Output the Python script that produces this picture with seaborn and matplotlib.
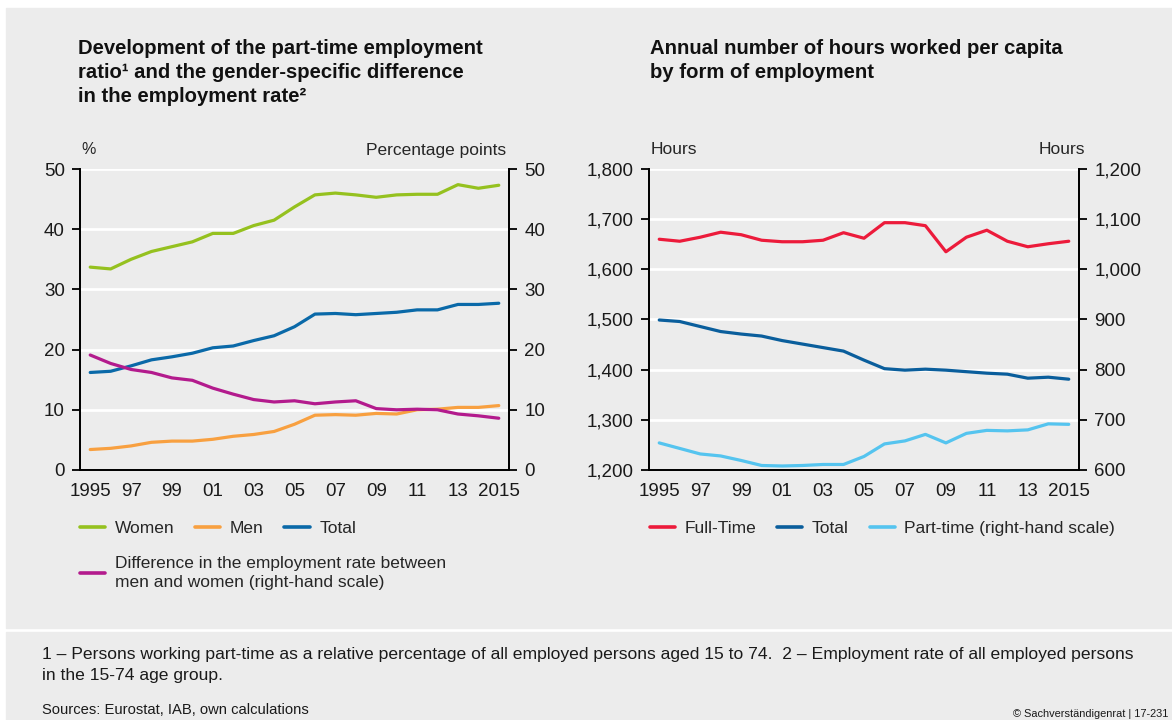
import numpy as np
import pandas as pd
import seaborn as sns
import matplotlib
matplotlib.use("Agg")
from matplotlib import pyplot as plt
from matplotlib.patches import Rectangle
from matplotlib.lines import Line2D

years = list(range(1995, 2016))
year_labels = ['1995', '97', '99', '01', '03', '05', '07', '09', '11', '13', '2015']

# left chart: part-time ratio (%) and gender gap (percentage points)
women = [33.7, 33.4, 35.0, 36.3, 37.1, 37.9, 39.3, 39.3, 40.6, 41.5, 43.7,
         45.7, 46.0, 45.7, 45.3, 45.7, 45.8, 45.8, 47.4, 46.8, 47.3]
men = [3.4, 3.6, 4.0, 4.6, 4.8, 4.8, 5.1, 5.6, 5.9, 6.4, 7.6,
       9.1, 9.2, 9.1, 9.4, 9.3, 10.0, 10.1, 10.4, 10.4, 10.7]
total_ratio = [16.2, 16.4, 17.3, 18.3, 18.8, 19.4, 20.3, 20.6, 21.5, 22.3, 23.8,
               25.9, 26.0, 25.8, 26.0, 26.2, 26.6, 26.6, 27.5, 27.5, 27.7]
gap = [19.1, 17.7, 16.7, 16.2, 15.3, 14.9, 13.6, 12.6, 11.7, 11.3, 11.5,
       11.0, 11.3, 11.5, 10.2, 10.0, 10.1, 10.0, 9.3, 9.0, 8.6]

# right chart: annual hours worked per capita
full_time = [1660, 1656, 1664, 1674, 1669, 1658, 1655, 1655, 1658, 1673, 1662,
             1693, 1693, 1687, 1635, 1664, 1678, 1656, 1645, 1651, 1656]
total_hours = [1499, 1496, 1486, 1476, 1471, 1467, 1458, 1451, 1444, 1437, 1419,
               1402, 1399, 1401, 1399, 1396, 1393, 1391, 1383, 1385, 1381]
part_time = [654, 643, 632, 628, 619, 609, 608, 609, 611, 611, 627,
             652, 658, 671, 654, 673, 679, 678, 680, 692, 691]

BG = '#ececec'
GREEN = '#95c11f'
ORANGE = '#f8a040'
BLUE = '#0a69a8'
MAGENTA = '#b31b8d'
RED = '#ec1b3b'
DBLUE = '#0a5e9c'
LBLUE = '#55c4ef'

sns.set_style('white')
plt.rcParams['font.family'] = ['Liberation Sans', 'DejaVu Sans']

W, H = 1172, 720
fig = plt.figure(figsize=(W / 100, H / 100), dpi=100)
fig.patch.set_facecolor('white')
fig.patches.append(Rectangle((6 / W, 1 - 628 / H), 1, 620 / H,
                             transform=fig.transFigure, color=BG, zorder=-10))
fig.patches.append(Rectangle((6 / W, 0), 1, 88 / H,
                             transform=fig.transFigure, color=BG, zorder=-10))

def box(x0, x1, y0, y1):
    return [x0 / W, 1 - y1 / H, (x1 - x0) / W, (y1 - y0) / H]

ax1 = fig.add_axes(box(80, 509, 169, 470))
ax2 = fig.add_axes(box(649, 1079, 169, 470))
ax1r = ax1.twinx()
ax2r = ax2.twinx()

left_df = pd.DataFrame({'year': years, 'Women': women, 'Men': men, 'Total': total_ratio})
gap_df = pd.DataFrame({'year': years, 'gap': gap})
right_df = pd.DataFrame({'year': years, 'Full-Time': full_time, 'Total': total_hours})
pt_df = pd.DataFrame({'year': years, 'part': part_time})

lw = 2.3
for col, c in [('Women', GREEN), ('Men', ORANGE), ('Total', BLUE)]:
    sns.lineplot(data=left_df, x='year', y=col, ax=ax1, color=c, lw=lw)
sns.lineplot(data=gap_df, x='year', y='gap', ax=ax1r, color=MAGENTA, lw=lw)
for col, c in [('Full-Time', RED), ('Total', DBLUE)]:
    sns.lineplot(data=right_df, x='year', y=col, ax=ax2, color=c, lw=lw)
sns.lineplot(data=pt_df, x='year', y='part', ax=ax2r, color=LBLUE, lw=lw)

TS = 13.5

def style(ax, axr, lim, ticks, rlim, rticks, fmt):
    ax.set_facecolor('none')
    axr.set_facecolor('none')
    ax.set_xlim(1994.5, 2015.5)
    ax.set_ylim(*lim)
    axr.set_ylim(*rlim)
    ax.set_yticks(ticks)
    axr.set_yticks(rticks)
    ax.set_yticklabels([fmt(v) for v in ticks])
    axr.set_yticklabels([fmt(v) for v in rticks])
    ax.set_xticks(years[::2])
    ax.set_xticklabels(year_labels)
    ax.set_xticks(np.arange(1994.5, 2016, 1), minor=True)
    ax.tick_params(axis='x', which='major', length=0, pad=9, labelsize=TS, colors='#1a1a1a')
    ax.tick_params(axis='x', which='minor', length=6, width=1.3, direction='out', color='black')
    ax.tick_params(axis='y', length=6, width=1.3, direction='out', pad=5, labelsize=TS)
    axr.tick_params(axis='y', length=6, width=1.3, direction='out', pad=5, labelsize=TS)
    for a in (ax, axr):
        a.set_xlabel('')
        a.set_ylabel('')
        a.spines['top'].set_visible(False)
        for s in ('left', 'right', 'bottom'):
            a.spines[s].set_color('black')
            a.spines[s].set_linewidth(1.3)
        a.tick_params(axis='y', colors='black', labelcolor='#1a1a1a')
    ax.grid(axis='y', color='white', lw=2)
    ax.set_axisbelow(True)

style(ax1, ax1r, (0, 50), range(0, 51, 10), (0, 50), range(0, 51, 10), lambda v: f'{v}')
style(ax2, ax2r, (1200, 1800), range(1200, 1801, 100), (600, 1200), range(600, 1201, 100),
      lambda v: f'{v:,}')

# titles
fig.text(78 / W, 1 - 39 / H,
         'Development of the part-time employment\nratio\u00b9 and the gender-specific difference\nin the employment rate\u00b2',
         fontsize=14.6, fontweight='bold', va='top', ha='left', linespacing=1.33, color='#111111')
fig.text(650 / W, 1 - 39 / H,
         'Annual number of hours worked per capita\nby form of employment',
         fontsize=14.6, fontweight='bold', va='top', ha='left', linespacing=1.33, color='#111111')

# unit labels
fig.text(81 / W, 1 - 150 / H, '%', fontsize=11.5, va='center', ha='left')
fig.text(506 / W, 1 - 150 / H, 'Percentage points', fontsize=12.5, va='center', ha='right')
fig.text(651 / W, 1 - 150 / H, 'Hours', fontsize=12.5, va='center', ha='left')
fig.text(1085 / W, 1 - 150 / H, 'Hours', fontsize=12.5, va='center', ha='right')

# legends
def h(c):
    return Line2D([], [], color=c, lw=2.6)

leg_kw = dict(frameon=False, fontsize=12.5, handlelength=1.45, handletextpad=0.55,
              columnspacing=1.2, borderaxespad=0, borderpad=0, loc='upper left')
fig.legend([h(GREEN), h(ORANGE), h(BLUE)], ['Women', 'Men', 'Total'], ncol=3,
           bbox_to_anchor=(80 / W, 1 - 521 / H), **leg_kw)
leg = fig.legend([h(MAGENTA)],
                 ['Difference in the employment rate between\nmen and women (right-hand scale)'],
                 bbox_to_anchor=(80 / W, 1 - 556 / H), **leg_kw)
for t in leg.get_texts():
    t.set_linespacing(1.35)
fig.legend([h(RED), h(DBLUE), h(LBLUE)],
           ['Full-Time', 'Total', 'Part-time (right-hand scale)'], ncol=3,
           bbox_to_anchor=(650 / W, 1 - 521 / H), **leg_kw)

# footnotes
fig.text(42 / W, 1 - 647 / H,
         '1 \u2013 Persons working part-time as a relative percentage of all employed persons aged 15 to 74.  '
         '2 \u2013 Employment rate of all employed persons\nin the 15-74 age group.',
         fontsize=12.6, va='top', ha='left', linespacing=1.5, color='#1a1a1a')
fig.text(42 / W, 1 - 710 / H, 'Sources: Eurostat, IAB, own calculations',
         fontsize=10.6, va='center', ha='left', color='#1a1a1a')
fig.text(1013 / W, 1 - 714 / H, '\u00a9 Sachverst\u00e4ndigenrat | 17-231',
         fontsize=7.9, va='center', ha='left', color='#1a1a1a')

fig.savefig('out.png', dpi=100)
